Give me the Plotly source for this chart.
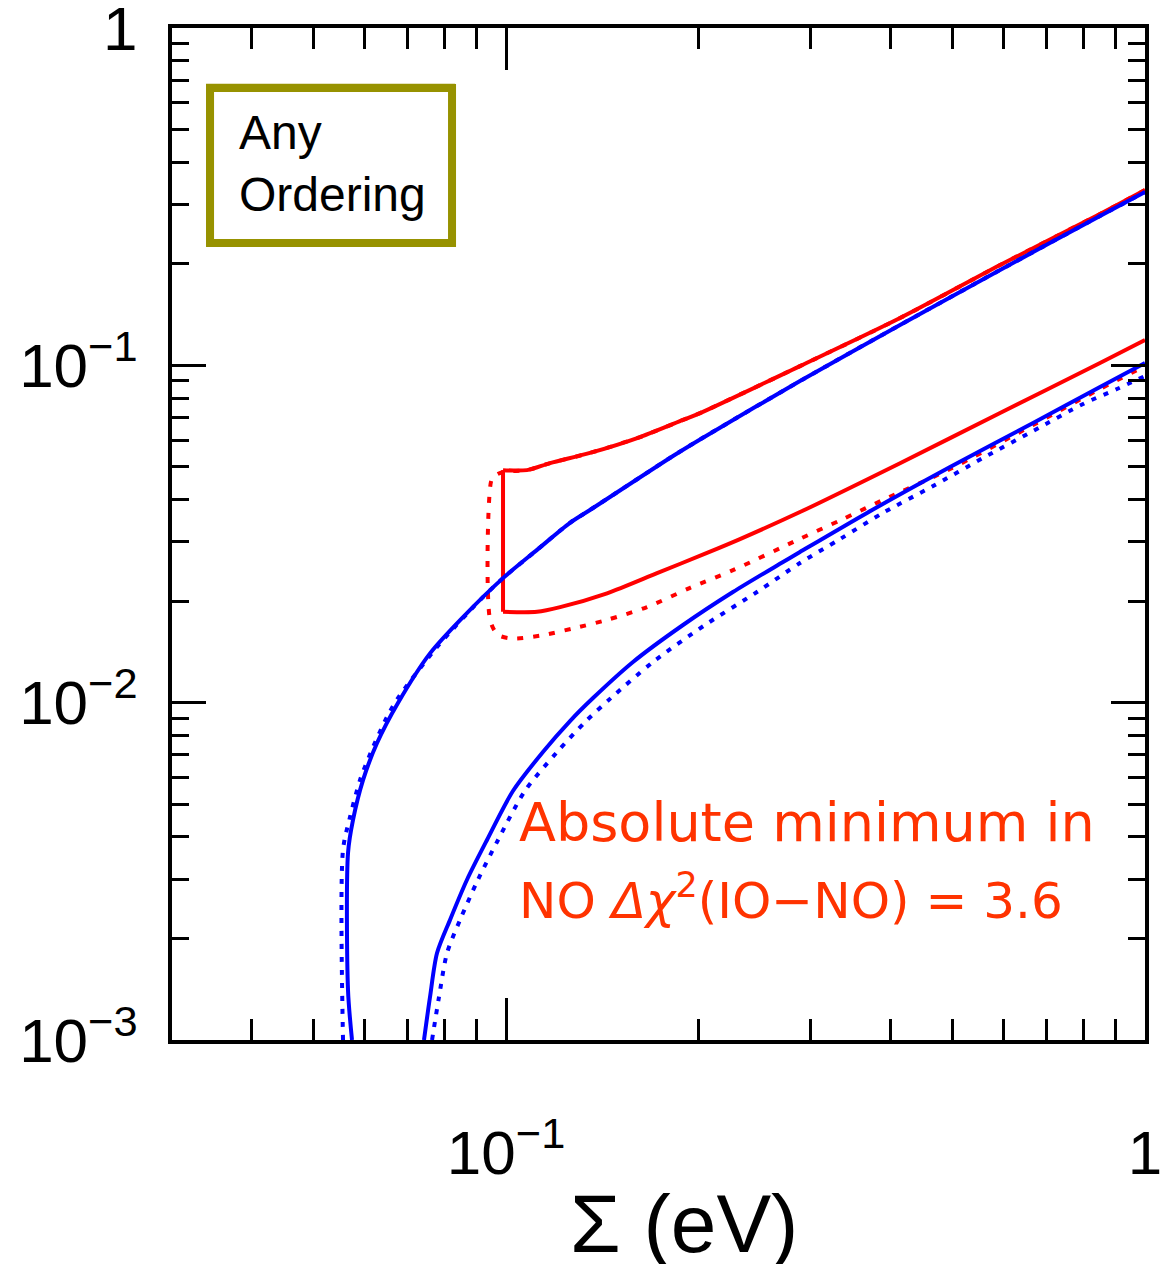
import plotly.graph_objects as go

# ---- Band edges: sum of neutrino masses Σ (eV) vs effective mass (eV) ----
# Normal ordering (blue), upper edge, solid
no_up_sigma = [0.05739, 0.05657, 0.05657, 0.05760, 0.05973, 0.06281, 0.06773, 0.07602,
               0.08563, 0.0989, 0.1118, 0.1259, 0.1353, 0.1825, 0.2012, 0.2884, 0.4136,
               0.5931, 0.8503, 1.0]
no_up_m = [0.001, 0.001407, 0.003583, 0.004490, 0.005900, 0.007592, 0.009977, 0.01400,
           0.01794, 0.02340, 0.02837, 0.03412, 0.03725, 0.05387, 0.0603, 0.0898, 0.1317,
           0.1917, 0.2772, 0.3265]

# Normal ordering, upper edge, dotted
no_up_sigma_d = [0.05556, 0.05556, 0.05698, 0.05908, 0.06191, 0.06511, 0.06773, 0.07797,
                 0.09104, 0.0989, 0.1118, 0.1259, 0.1353, 0.1825, 0.2012, 0.2884, 0.4136,
                 0.5931, 0.8503, 1.0]
no_up_m_d = [0.001, 0.003660, 0.004581, 0.005900, 0.007385, 0.009068, 0.01032, 0.01462,
             0.02014, 0.02340, 0.02837, 0.03412, 0.03725, 0.05387, 0.0603, 0.0898, 0.1317,
             0.1917, 0.2772, 0.3265]

# Normal ordering, lower edge, solid
no_lo_sigma = [0.07439, 0.07602, 0.07797, 0.08170, 0.08686, 0.09335, 0.1025, 0.1142,
               0.1259, 0.1368, 0.1580, 0.1892, 0.2265, 0.2713, 0.2884, 0.3672, 0.4953,
               0.6681, 0.8503, 1.0]
no_lo_m = [0.001, 0.001341, 0.001810, 0.002269, 0.002986, 0.003917, 0.005471, 0.007142,
           0.008820, 0.01032, 0.01320, 0.01699, 0.02128, 0.02612, 0.02797, 0.03652,
           0.04995, 0.06745, 0.08626, 0.1016]

# Normal ordering, lower edge, dotted
no_lo_sigma_d = [0.07658, 0.07852, 0.08083, 0.08471, 0.09036, 0.09714, 0.1070, 0.1202,
                 0.1334, 0.1459, 0.1698, 0.2048, 0.2470, 0.2884, 0.3332, 0.3889, 0.4659,
                 0.5579, 0.6681, 0.7999, 0.9041, 1.0]
no_lo_m_d = [0.001, 0.001341, 0.001810, 0.002269, 0.002986, 0.003917, 0.005471, 0.007142,
             0.008820, 0.01032, 0.01320, 0.01699, 0.02128, 0.02594, 0.03055, 0.03652,
             0.04388, 0.05314, 0.06389, 0.07680, 0.08510, 0.09297]

# Inverted ordering (red), solid: upper edge and lower edge, both starting at the
# vertical cut at the smallest allowed Σ
io_up_sigma = [0.0989, 0.1078, 0.1172, 0.1353, 0.1621, 0.1892, 0.2012, 0.2884, 0.4136,
               0.5931, 0.8503, 1.0]
io_up_m = [0.0489, 0.0489, 0.0513, 0.0550, 0.0613, 0.0689, 0.0722, 0.0995, 0.1381,
           0.1983, 0.2810, 0.3310]
io_lo_sigma = [0.0989, 0.1118, 0.1215, 0.1439, 0.1723, 0.2063, 0.2323, 0.2884, 0.4136,
               0.5931, 0.8503, 1.0]
io_lo_m = [0.0186, 0.0186, 0.0192, 0.0211, 0.0242, 0.0278, 0.03055, 0.03674, 0.05128,
           0.0722, 0.1016, 0.1189]

# Inverted ordering, dotted (runs under the solid upper edge, then opens to the left)
io_sigma_d = [1.0, 0.8503, 0.5931, 0.4136, 0.2884, 0.2012, 0.1892, 0.1621, 0.1353, 0.1172,
              0.1078, 0.0989, 0.0960, 0.0948, 0.0944, 0.0971, 0.1022, 0.1130, 0.1273,
              0.1439, 0.1662, 0.1941, 0.2265, 0.2884, 0.3368, 0.3889, 0.4953, 0.6681,
              0.8503, 1.0]
io_m_d = [0.3310, 0.2810, 0.1983, 0.1381, 0.0995, 0.0722, 0.0689, 0.0613, 0.0550, 0.0513,
          0.0489, 0.0483, 0.0470, 0.0455, 0.0176, 0.0159, 0.0155, 0.0158, 0.0166,
          0.0176, 0.0192, 0.0219, 0.0247, 0.0306, 0.03503, 0.0399, 0.04927, 0.06654,
          0.08510, 0.0995]

# ---- Axis ticks ----
x_major = [0.1, 1]
x_major_text = ["10<sup>−1</sup>", "1"]
x_minor = [0.04, 0.05, 0.06, 0.07, 0.08, 0.09, 0.2, 0.3, 0.4, 0.5, 0.6, 0.7, 0.8, 0.9]
y_major = [0.001, 0.01, 0.1, 1]
y_major_text = ["10<sup>−3</sup>", "10<sup>−2</sup>", "10<sup>−1</sup>", "1"]
y_minor = [k * 10.0 ** e for e in (-3, -2, -1) for k in range(2, 10)]

RED = "#ff0000"
BLUE = "#0000ff"
OLIVE = "#979200"
NOTE = "#ff3300"
FONT = "Liberation Sans, Arial, Helvetica, sans-serif"
NOTE_FONT = "DejaVu Sans"

fig = go.Figure()


def curve(xs, ys, color, dash=None, shape="spline"):
    line = dict(color=color, width=4, shape=shape)
    if shape == "spline":
        line["smoothing"] = 0.8
    if dash:
        line["dash"] = dash
    fig.add_trace(go.Scatter(x=xs, y=ys, mode="lines", line=line, hoverinfo="skip"))


# red first so the blue bands sit on top where they overlap
curve(io_sigma_d, io_m_d, RED, dash="6px,10px")
curve(io_up_sigma, io_up_m, RED)
curve(io_lo_sigma, io_lo_m, RED)
curve([io_up_sigma[0], io_lo_sigma[0]], [io_up_m[0], io_lo_m[0]], RED, shape="linear")
curve(no_up_sigma_d, no_up_m_d, BLUE, dash="5px,8px")
curve(no_lo_sigma_d, no_lo_m_d, BLUE, dash="5px,8px")
curve(no_up_sigma, no_up_m, BLUE)
curve(no_lo_sigma, no_lo_m, BLUE)

fig.update_xaxes(
    type="log", range=[-1.5229, 0], automargin=False,
    showline=True, linecolor="black", linewidth=4, mirror="allticks",
    showgrid=False, zeroline=False,
    tickmode="array", tickvals=x_major, ticktext=x_major_text,
    ticks="inside", ticklen=42, tickwidth=3, tickcolor="black",
    tickfont=dict(family=FONT, size=62, color="black"),
    ticklabelstandoff=56, ticklabeloverflow="allow",
    minor=dict(tickmode="array", tickvals=x_minor, ticks="inside",
               ticklen=21, tickwidth=3, tickcolor="black", showgrid=False),
)
fig.update_yaxes(
    type="log", range=[-3, 0], automargin=False,
    showline=True, linecolor="black", linewidth=4, mirror="allticks",
    showgrid=False, zeroline=False,
    tickmode="array", tickvals=y_major, ticktext=y_major_text,
    ticks="inside", ticklen=34, tickwidth=3, tickcolor="black",
    tickfont=dict(family=FONT, size=62, color="black"),
    ticklabelstandoff=18, ticklabeloverflow="allow",
    minor=dict(tickmode="array", tickvals=y_minor, ticks="inside",
               ticklen=17, tickwidth=3, tickcolor="black", showgrid=False),
)

# "Any Ordering" framed label
fig.add_shape(type="rect", xref="paper", yref="paper",
              x0=0.0391, x1=0.2878, y0=0.7875, y1=0.9407,
              line=dict(color=OLIVE, width=8))
fig.add_shape(type="rect", xref="paper", yref="paper",
              x0=0.0360, x1=0.2900, y0=0.7850, y1=0.9440,
              line=dict(color=OLIVE, width=2))
fig.add_annotation(xref="paper", yref="paper", x=0.0668, y=0.8660,
                   xanchor="left", yanchor="middle", align="left", showarrow=False,
                   text="Any<br>Ordering",
                   font=dict(family=FONT, size=48, color="black"))

# note on the ordering preference
fig.add_annotation(xref="paper", yref="paper", x=0.3546, y=0.2150,
                   xanchor="left", yanchor="middle", showarrow=False,
                   text="Absolute minimum in",
                   font=dict(family=NOTE_FONT, size=54, color=NOTE))
fig.add_annotation(xref="paper", yref="paper", x=0.3546, y=0.1410,
                   xanchor="left", yanchor="middle", showarrow=False,
                   text="NO <i>Δχ</i><sup>2</sup>(IO−NO) = 3.6",
                   font=dict(family=NOTE_FONT, size=50, color=NOTE))

# x-axis title
fig.add_annotation(xref="paper", yref="paper", x=0.526, y=-0.181,
                   xanchor="center", yanchor="middle", showarrow=False,
                   text="Σ (eV)",
                   font=dict(family=FONT, size=82, color="black"))

fig.update_layout(
    width=1172, height=1264,
    margin=dict(l=172, r=27, t=28, b=224, autoexpand=False),
    plot_bgcolor="white", paper_bgcolor="white",
    showlegend=False,
)

fig.write_html("out.html")
